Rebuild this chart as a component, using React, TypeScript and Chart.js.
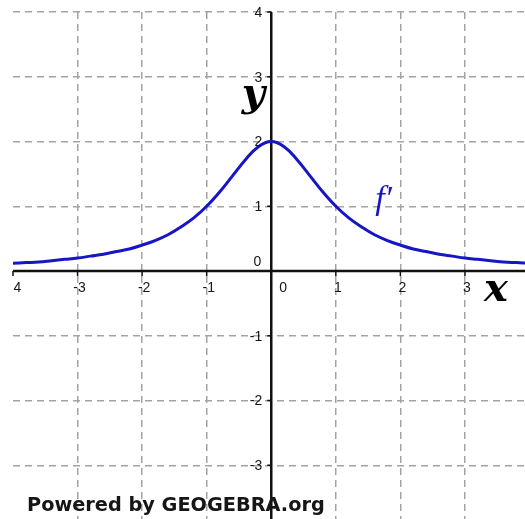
import React, { useEffect, useRef } from "react";
import { Chart, registerables } from "chart.js";

Chart.register(...registerables);

// Sampled values of the derivative curve f'
const xValues = [
  -4, -3.8, -3.6, -3.4, -3.2, -3, -2.8, -2.6, -2.4, -2.2, -2, -1.8, -1.6, -1.4, -1.2, -1, -0.8,
  -0.6, -0.4, -0.2, 0, 0.2, 0.4, 0.6, 0.8, 1, 1.2, 1.4, 1.6, 1.8, 2, 2.2, 2.4, 2.6, 2.8, 3, 3.2,
  3.4, 3.6, 3.8, 4,
];
const yValues = [
  0.12, 0.13, 0.14, 0.16, 0.18, 0.2, 0.23, 0.26, 0.3, 0.34, 0.4, 0.47, 0.56, 0.68, 0.82, 1.0,
  1.22, 1.47, 1.72, 1.92, 2.0, 1.92, 1.72, 1.47, 1.22, 1.0, 0.82, 0.68, 0.56, 0.47, 0.4, 0.34,
  0.3, 0.26, 0.23, 0.2, 0.18, 0.16, 0.14, 0.13, 0.12,
];

// Axis tick labels
const xTickLabels = [-4, -3, -2, -1, 0, 1, 2, 3];
const yTickLabels = [4, 3, 2, 1, 0, -1, -2, -3];

const xAxisTitle = "x";
const yAxisTitle = "y";
const curveLabel = "f\u2032";
const footerText = "Powered by GEOGEBRA.org";

const CURVE_COLOR = "#1616c4";
const AXIS_COLOR = "#111111";
const GRID_COLOR = "#a3a3a3";
const LABEL_FONT = '14px "Liberation Sans", Arial, sans-serif';

const axesPlugin = {
  id: "geoAxes",
  beforeDatasetsDraw(chart: any) {
    const { ctx, chartArea, scales } = chart;
    const xs = scales.x;
    const ys = scales.y;
    const ax = xs.getPixelForValue(0);
    const ay = ys.getPixelForValue(0);
    ctx.save();
    ctx.strokeStyle = AXIS_COLOR;
    ctx.lineWidth = 2.5;
    ctx.beginPath();
    ctx.moveTo(chartArea.left, ay);
    ctx.lineTo(chartArea.right, ay);
    ctx.moveTo(ax, chartArea.top);
    ctx.lineTo(ax, chartArea.bottom);
    ctx.stroke();
    // small tick marks on both axes
    ctx.lineWidth = 1.5;
    ctx.beginPath();
    xTickLabels.forEach((v) => {
      if (v === 0) return;
      const px = xs.getPixelForValue(v);
      ctx.moveTo(px, ay);
      ctx.lineTo(px, ay + 5);
    });
    yTickLabels.forEach((v) => {
      if (v === 0) return;
      const py = ys.getPixelForValue(v);
      ctx.moveTo(ax - 4, py);
      ctx.lineTo(ax, py);
    });
    ctx.stroke();
    ctx.restore();
  },
  afterDatasetsDraw(chart: any) {
    const { ctx, chartArea, scales, width, height } = chart;
    const xs = scales.x;
    const ys = scales.y;
    const ax = xs.getPixelForValue(0);
    const ay = ys.getPixelForValue(0);
    ctx.save();
    ctx.beginPath();
    ctx.rect(chartArea.left, 0, width - chartArea.left, height);
    ctx.clip();

    ctx.fillStyle = "#161616";
    ctx.font = LABEL_FONT;
    ctx.textBaseline = "middle";
    ctx.textAlign = "center";
    xTickLabels.forEach((v) => {
      const px = v === 0 ? ax + 12 : xs.getPixelForValue(v) + 2;
      ctx.fillText(String(v), px, ay + 17);
    });
    ctx.textAlign = "right";
    yTickLabels.forEach((v) => {
      if (v === 0) {
        ctx.fillText("0", ax - 10, ay - 9);
        return;
      }
      ctx.fillText(String(v), ax - 9, ys.getPixelForValue(v) + 1);
    });

    // axis titles
    ctx.fillStyle = "#000000";
    ctx.font = 'italic bold 40px "DejaVu Serif", serif';
    ctx.textAlign = "center";
    ctx.textBaseline = "alphabetic";
    ctx.fillText(yAxisTitle, ax - 18, ys.getPixelForValue(2.55));
    ctx.fillText(xAxisTitle, xs.getPixelForValue(3.48), ay + 30);

    // curve name
    ctx.fillStyle = CURVE_COLOR;
    ctx.font = 'italic 34px "Liberation Serif", serif';
    ctx.fillText(curveLabel, xs.getPixelForValue(1.74), ys.getPixelForValue(0.95));

    // footer
    ctx.fillStyle = "#161616";
    ctx.textAlign = "left";
    ctx.textBaseline = "middle";
    ctx.font = 'bold 17px "DejaVu Sans", sans-serif';
    const w = ctx.measureText(footerText).width;
    const size = (17 * 298) / w;
    ctx.font = `bold ${size.toFixed(2)}px "DejaVu Sans", sans-serif`;
    ctx.fillText(footerText, 27, 506);
    ctx.restore();
  },
};

export default function App() {
  const canvasRef = useRef<HTMLCanvasElement | null>(null);

  useEffect(() => {
    const canvas = canvasRef.current;
    if (!canvas) return;
    const points = xValues.map((x, i) => ({ x, y: yValues[i] }));
    const chart = new Chart(canvas, {
      type: "line",
      data: {
        datasets: [
          {
            data: points,
            borderColor: CURVE_COLOR,
            borderWidth: 3,
            pointRadius: 0,
            fill: false,
            tension: 0.4,
          },
        ],
      },
      options: {
        responsive: false,
        animation: false,
        devicePixelRatio: 1,
        layout: { padding: { left: 13, top: 12, right: 0, bottom: 0 } },
        plugins: { legend: { display: false }, tooltip: { enabled: false } },
        scales: {
          x: {
            type: "linear",
            min: -4,
            max: 3.93,
            afterBuildTicks: (s: any) => {
              s.ticks = xTickLabels.filter((v) => v !== 0 && v !== -4).map((v) => ({ value: v }));
            },
            afterFit: (s: any) => {
              s.height = 0;
            },
            ticks: { display: false },
            grid: { color: GRID_COLOR, lineWidth: 1.5, drawTicks: false },
            border: { display: false, dash: [7, 5] },
          },
          y: {
            type: "linear",
            min: -3.83,
            max: 4,
            afterBuildTicks: (s: any) => {
              s.ticks = yTickLabels.filter((v) => v !== 0).map((v) => ({ value: v }));
            },
            afterFit: (s: any) => {
              s.width = 0;
            },
            ticks: { display: false },
            grid: { color: GRID_COLOR, lineWidth: 1.5, drawTicks: false },
            border: { display: false, dash: [7, 5] },
          },
        },
      },
      plugins: [axesPlugin],
    });
    return () => chart.destroy();
  }, []);

  return (
    <div style={{ position: "fixed", left: 0, top: 0, width: 525, height: 519, background: "#ffffff" }}>
      <canvas ref={canvasRef} width={525} height={519} style={{ width: 525, height: 519, display: "block" }} />
    </div>
  );
}
